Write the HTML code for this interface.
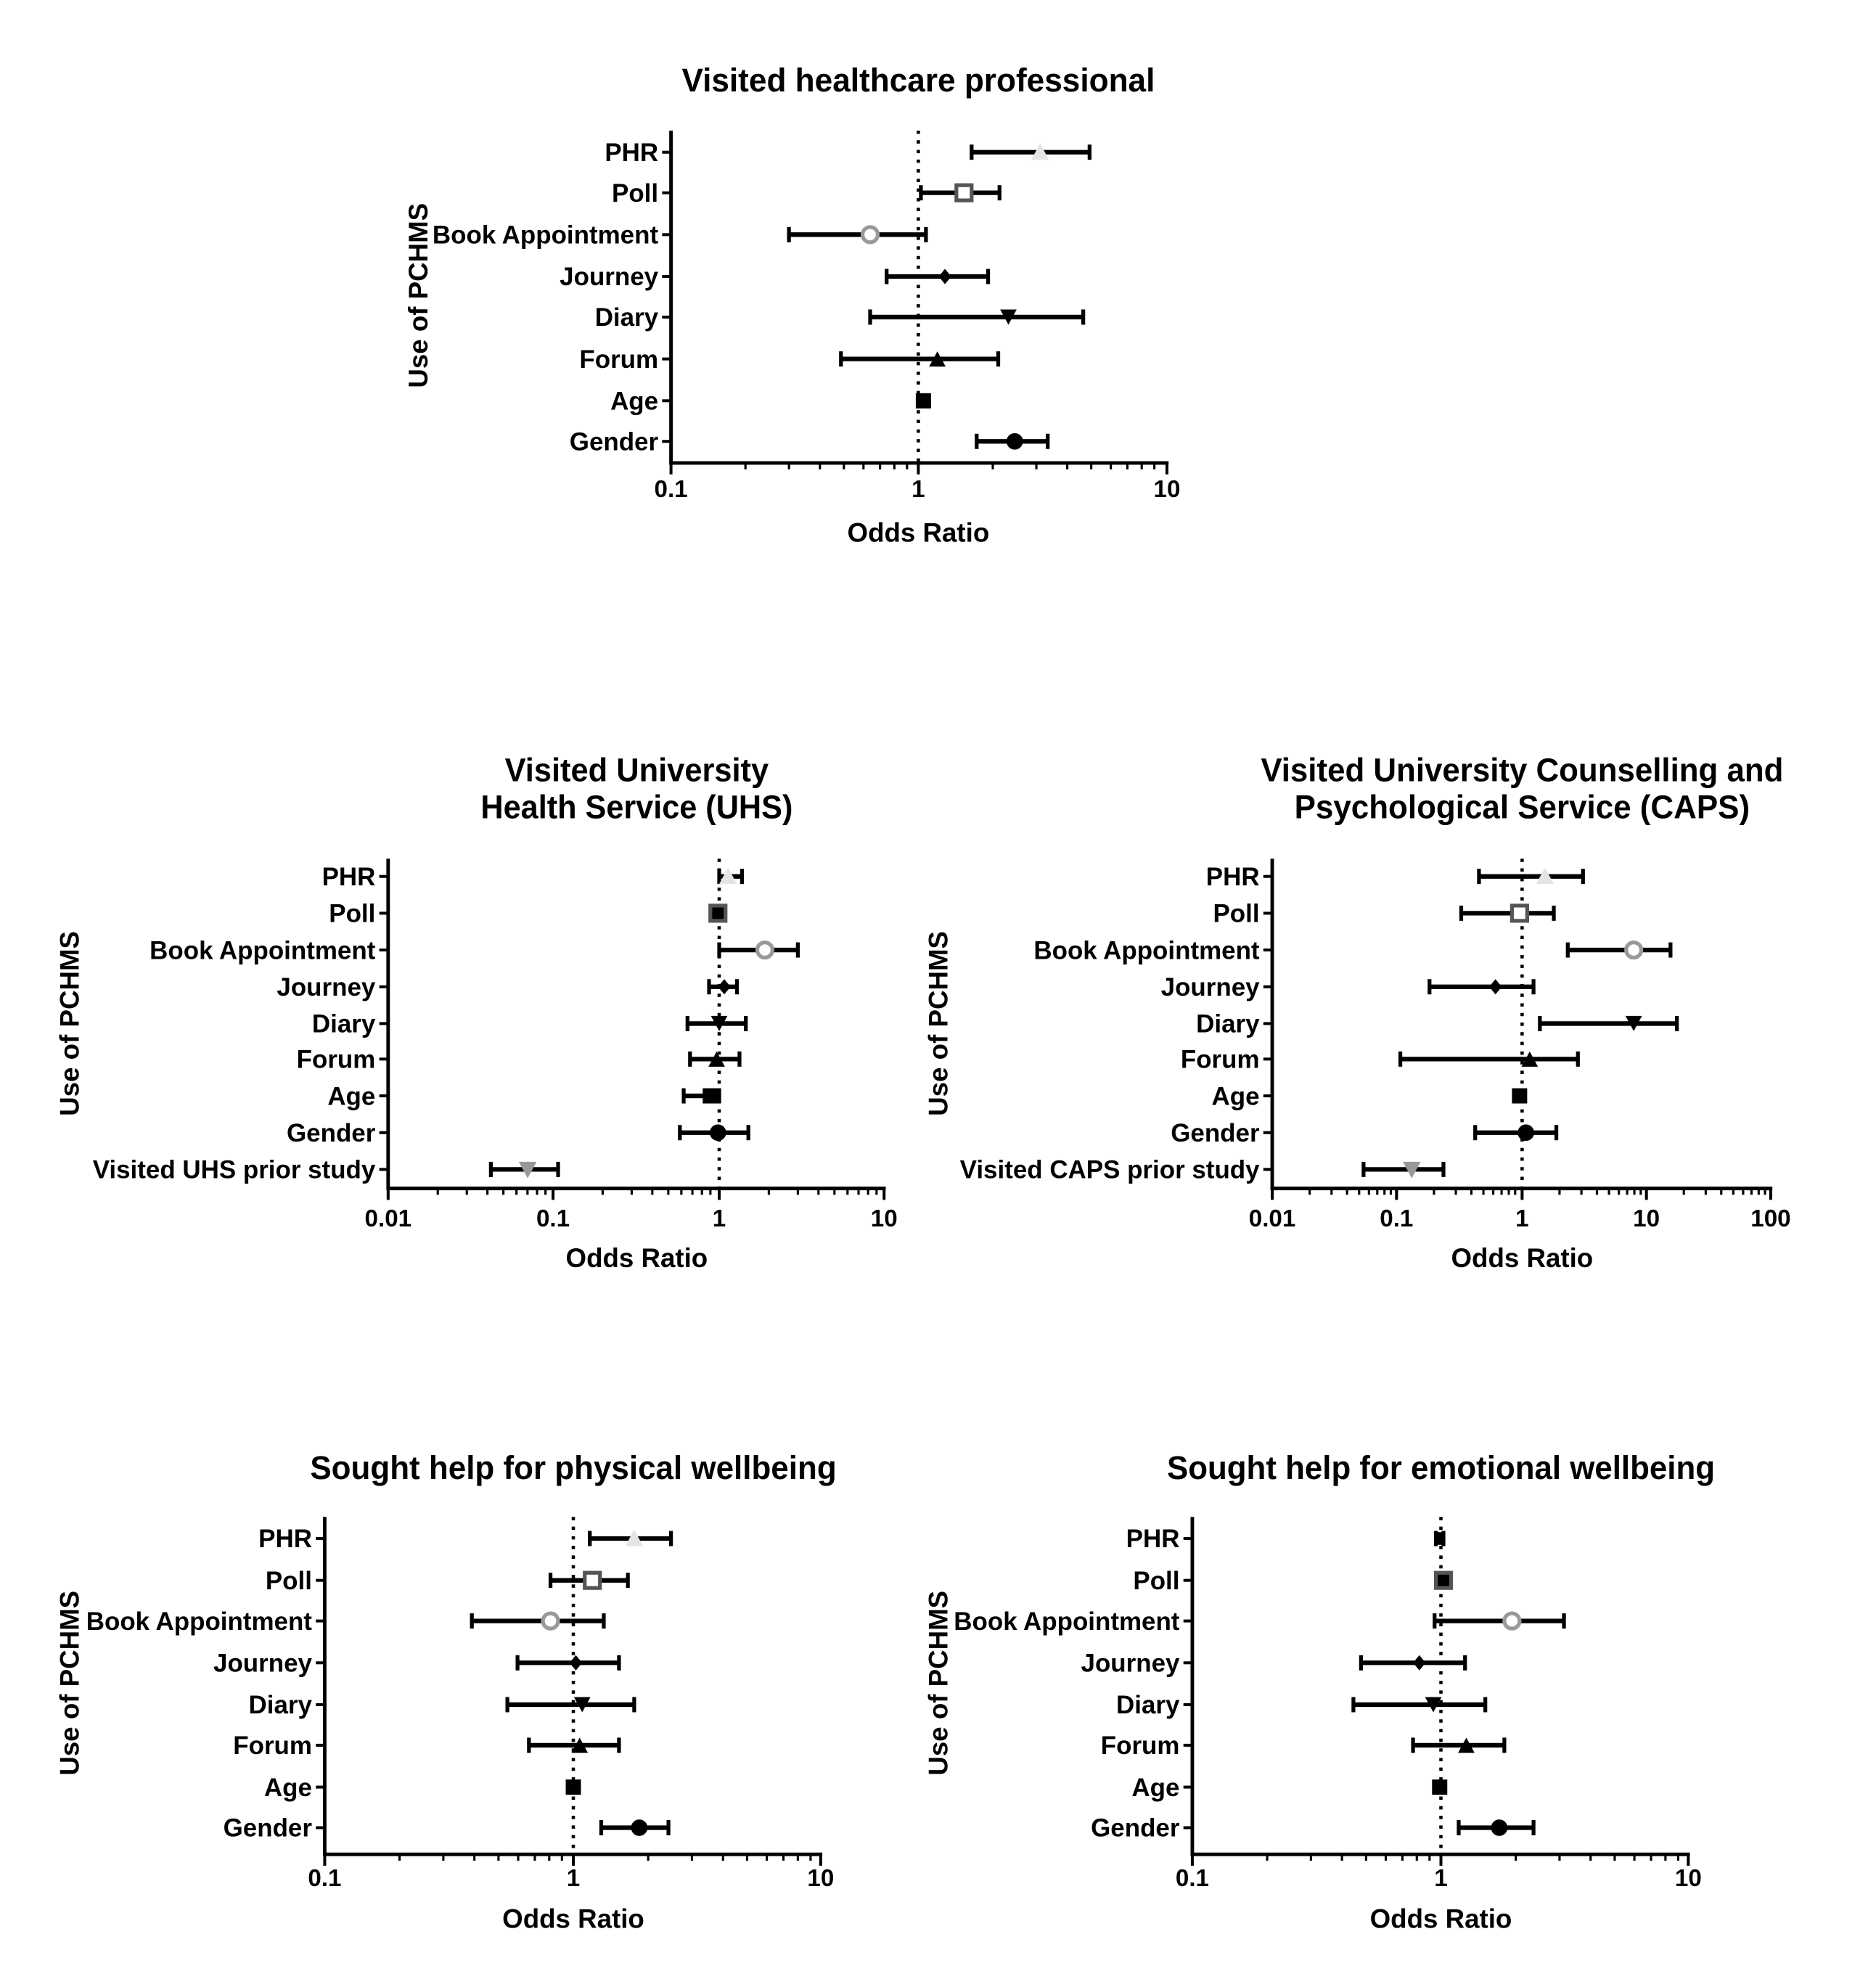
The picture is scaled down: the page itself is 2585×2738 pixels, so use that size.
<!DOCTYPE html>
<html><head><meta charset="utf-8"><style>
html,body{margin:0;padding:0;background:#fff}
svg{display:block}
.t{font-family:"Liberation Sans Narrow","Liberation Sans",sans-serif;font-weight:bold;fill:#000}
.y{font-family:"Liberation Sans",sans-serif;font-weight:bold;fill:#000}
</style></head><body>
<svg id="s" width="2585" height="2738" viewBox="0 0 1479 1566.6" preserveAspectRatio="none" xmlns="http://www.w3.org/2000/svg">
<rect width="1479" height="1567" fill="#fff"/>
<g id="g"></g>
<g class="t" font-size="26" text-anchor="middle">
<text x="724" y="72" textLength="373" lengthAdjust="spacingAndGlyphs">Visited healthcare professional</text>
<text x="502" y="616" textLength="208" lengthAdjust="spacingAndGlyphs">Visited University</text>
<text x="502" y="645" textLength="246" lengthAdjust="spacingAndGlyphs">Health Service (UHS)</text>
<text x="1200" y="616" textLength="412" lengthAdjust="spacingAndGlyphs">Visited University Counselling and</text>
<text x="1200" y="645" textLength="359" lengthAdjust="spacingAndGlyphs">Psychological Service (CAPS)</text>
<text x="452" y="1166" textLength="415" lengthAdjust="spacingAndGlyphs">Sought help for physical wellbeing</text>
<text x="1136" y="1166" textLength="432" lengthAdjust="spacingAndGlyphs">Sought help for emotional wellbeing</text>
</g>
<g class="y" font-size="21" text-anchor="middle">
<text transform="translate(337,233) rotate(-90)">Use of PCHMS</text>
<text transform="translate(62,807) rotate(-90)">Use of PCHMS</text>
<text transform="translate(747,807) rotate(-90)">Use of PCHMS</text>
<text transform="translate(62,1327) rotate(-90)">Use of PCHMS</text>
<text transform="translate(747,1327) rotate(-90)">Use of PCHMS</text>
</g>
<g class="t" font-size="21" text-anchor="middle">
<text x="724" y="427">Odds Ratio</text>
<text x="502" y="999">Odds Ratio</text>
<text x="1200" y="999">Odds Ratio</text>
<text x="452" y="1520">Odds Ratio</text>
<text x="1136" y="1520">Odds Ratio</text>
</g>
<g class="t" font-size="19" text-anchor="middle">
<text x="529" y="392">0.1</text><text x="724" y="392">1</text><text x="920" y="392">10</text>
<text x="306" y="967">0.01</text><text x="436" y="967">0.1</text><text x="567" y="967">1</text><text x="697" y="967">10</text>
<text x="1003" y="967">0.01</text><text x="1101" y="967">0.1</text><text x="1200" y="967">1</text><text x="1298" y="967">10</text><text x="1396" y="967">100</text>
<text x="256" y="1487">0.1</text><text x="452" y="1487">1</text><text x="647" y="1487">10</text>
<text x="940" y="1487">0.1</text><text x="1136" y="1487">1</text><text x="1331" y="1487">10</text>
</g>
<g class="t" font-size="20" text-anchor="end">
<text x="519" y="127">PHR</text><text x="519" y="159">Poll</text><text x="519" y="192">Book Appointment</text><text x="519" y="225">Journey</text><text x="519" y="257">Diary</text><text x="519" y="290">Forum</text><text x="519" y="323">Age</text><text x="519" y="355">Gender</text>
<text x="296" y="698">PHR</text><text x="296" y="727">Poll</text><text x="296" y="756">Book Appointment</text><text x="296" y="785">Journey</text><text x="296" y="814">Diary</text><text x="296" y="842">Forum</text><text x="296" y="871">Age</text><text x="296" y="900">Gender</text><text x="296" y="929">Visited UHS prior study</text>
<text x="993" y="698">PHR</text><text x="993" y="727">Poll</text><text x="993" y="756">Book Appointment</text><text x="993" y="785">Journey</text><text x="993" y="814">Diary</text><text x="993" y="842">Forum</text><text x="993" y="871">Age</text><text x="993" y="900">Gender</text><text x="993" y="929">Visited CAPS prior study</text>
<text x="246" y="1220">PHR</text><text x="246" y="1253">Poll</text><text x="246" y="1285">Book Appointment</text><text x="246" y="1318">Journey</text><text x="246" y="1351">Diary</text><text x="246" y="1383">Forum</text><text x="246" y="1416">Age</text><text x="246" y="1448">Gender</text>
<text x="930" y="1220">PHR</text><text x="930" y="1253">Poll</text><text x="930" y="1285">Book Appointment</text><text x="930" y="1318">Journey</text><text x="930" y="1351">Diary</text><text x="930" y="1383">Forum</text><text x="930" y="1416">Age</text><text x="930" y="1448">Gender</text>
</g>
</svg>
<script>
var NS="http://www.w3.org/2000/svg",G=document.getElementById("g");
function el(t,a){var e=document.createElementNS(NS,t);for(var k in a)e.setAttribute(k,a[k]);G.appendChild(e);return e;}
function ln(x1,y1,x2,y2,w,extra){var a={x1:x1,y1:y1,x2:x2,y2:y2,stroke:"#000","stroke-width":w};for(var k in extra)a[k]=extra[k];return el("line",a);}
var C=[
{ax:529,top:103,bot:365,dec:[529,724,920],one:724,rows:[120,152,185,218,250,283,316,348],
 d:[[766,859,820],[726,788,760],[622,730,686],[699,779,745],[686,854,795],[663,787,739],[null,null,728],[770,826,800]]},
{ax:306,top:677,bot:937,dec:[306,436,567,697],one:567,rows:[691,720,749,778,807,835,864,893,922],
 d:[[567,585,574],[null,null,566],[567,629,603],[559,581,571],[542,588,567],[544,583,565],[539,567,560],[536,590,566],[387,440,416]]},
{ax:1003,top:677,bot:937,dec:[1003,1101,1200,1298,1396],one:1200,rows:[691,720,749,778,807,835,864,893,922],
 d:[[1166,1248,1218],[1152,1225,1198],[1236,1317,1288],[1127,1209,1179],[1214,1322,1288],[1104,1244,1206],[null,null,1198],[1163,1227,1203],[1075,1138,1113]]},
{ax:256,top:1196,bot:1462,dec:[256,452,647],one:452,rows:[1213,1246,1278,1311,1344,1376,1409,1441],
 d:[[465,529,500],[434,495,467],[372,476,434],[408,488,454],[400,500,459],[417,488,457],[null,null,452],[474,527,504]]},
{ax:940,top:1196,bot:1462,dec:[940,1136,1331],one:1136,rows:[1213,1246,1278,1311,1344,1376,1409,1441],
 d:[[1132,1138,1135],[null,null,1138],[1131,1233,1192],[1073,1155,1119],[1067,1171,1130],[1114,1186,1156],[null,null,1135],[1150,1209,1182]]}
];
C.forEach(function(c,ci){
 var b=c.bot,x0=c.dec[0],x1=c.dec[c.dec.length-1],D=c.dec[1]-c.dec[0];
 ln(c.one,c.top,c.one,b,2.6,{"stroke-dasharray":"2.6 5","stroke-linecap":"butt"});
 ln(c.ax,c.top,c.ax,b+1.3,2.8); ln(c.ax-1.3,b,x1+1.3,b,2.8);
 for(var i=0;i<c.dec.length;i++){ln(c.dec[i],b,c.dec[i],b+9,2.3);
  if(i<c.dec.length-1)for(var m=2;m<10;m++){var x=c.dec[i]+Math.log10(m)*D;ln(x,b,x,b+5,1.8);}}
 c.rows.forEach(function(y){ln(c.ax-7,y,c.ax,y,2.3);});
 c.d.forEach(function(r,i){var y=c.rows[i];
  if(r[0]!==null){ln(r[0],y,r[1],y,3.6);ln(r[0],y-6,r[0],y+6,3);ln(r[1],y-6,r[1],y+6,3);}
  var x=r[2];
  if(i==c.d.length-1&&c.rows.length==9){
   el("polygon",{points:(x-7)+","+(y-6)+" "+(x+7)+","+(y-6)+" "+x+","+(y+7),fill:"#999"});return;}
  switch(i){
   case 0: if(ci==4){el("rect",{x:x-3.5,y:y-5,width:7,height:10,fill:"#000"});}
     else el("polygon",{points:(x-7)+","+(y+6)+" "+(x+7)+","+(y+6)+" "+x+","+(y-7),fill:"#e4e4e4"});break;
   case 1: el("rect",{x:x-6,y:y-6,width:12,height:12,fill:(ci==1||ci==4)?"#000":"#fff",stroke:"#555","stroke-width":3});break;
   case 2: el("circle",{cx:x,cy:y,r:6,fill:"#fff",stroke:"#999","stroke-width":3});break;
   case 3: el("polygon",{points:x+","+(y-6)+" "+(x+5)+","+y+" "+x+","+(y+6)+" "+(x-5)+","+y,fill:"#000"});break;
   case 4: el("polygon",{points:(x-6.5)+","+(y-6)+" "+(x+6.5)+","+(y-6)+" "+x+","+(y+6)});break;
   case 5: el("polygon",{points:(x-6.5)+","+(y+6)+" "+(x+6.5)+","+(y+6)+" "+x+","+(y-6)});break;
   case 6: el("rect",{x:x-6,y:y-6,width:12,height:12,fill:"#000"});break;
   case 7: el("circle",{cx:x,cy:y,r:6.5,fill:"#000"});break;
  }
 });
});
</script>
</body></html>
